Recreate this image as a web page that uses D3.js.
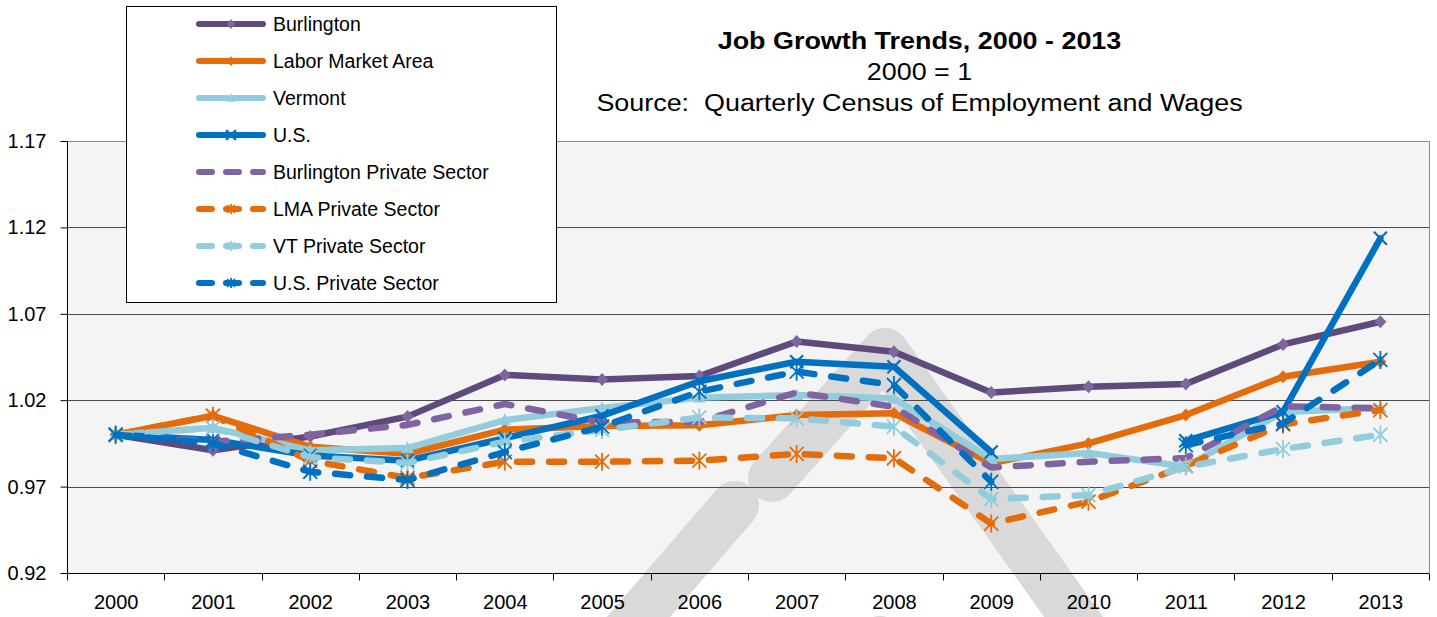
<!DOCTYPE html>
<html>
<head>
<meta charset="utf-8">
<script src="https://cdn.jsdelivr.net/npm/d3@7"></script>
<style>
  html, body { margin: 0; padding: 0; background: #fff; }
  svg { display: block; font-family: "Liberation Sans", Arial, sans-serif; }
</style>
</head>
<body>
<svg id="chart" width="1437" height="617"></svg>
<script>
// ---------- data ----------
const years = ["2000","2001","2002","2003","2004","2005","2006","2007","2008","2009","2010","2011","2012","2013"];
const yTicks = [0.92, 0.97, 1.02, 1.07, 1.12, 1.17];
const seriesNames = ["Burlington","Labor Market Area","Vermont","U.S.","Burlington Private Sector","LMA Private Sector","VT Private Sector","U.S. Private Sector"];
const burlington   = [1, 0.991, 0.999, 1.0105, 1.0346, 1.032, 1.034, 1.054, 1.048, 1.0244, 1.0278, 1.0294, 1.0523, 1.0654];
const lma          = [1, 1.011, 0.993, 0.989, 1.003, 1.005, 1.0055, 1.0114, 1.0124, 0.9835, 0.995, 1.0114, 1.0336, 1.0423];
const vermont      = [1, 1.004, 0.991, 0.9923, 1.0085, 1.0155, 1.0215, 1.023, 1.021, 0.986, 0.9895, 0.9815, 1.0132, 1.0155];
const us           = [1, 0.997, 0.988, 0.985, 0.998, 1.011, 1.031, 1.0423, 1.0394, 0.990, null, 0.9965, 1.0133, 1.1137];
const burlPrivate  = [1, 0.996, 1.000, 1.0057, 1.0178, 1.007, 1.0076, 1.0245, 1.0162, 0.981, 0.9844, 0.9865, 1.0165, 1.0153];
const lmaPrivate   = [1, 1.011, 0.985, 0.975, 0.9844, 0.9844, 0.985, 0.9889, 0.9864, 0.9486, 0.9613, 0.982, 1.006, 1.0143];
const vtPrivate    = [1, 1.004, 0.987, 0.9837, 0.996, 1.0028, 1.010, 1.0095, 1.0047, 0.9628, 0.9651, 0.9815, 0.9917, 1.000];
const usPrivate    = [1, 0.995, 0.9786, 0.9738, 0.990, 1.0047, 1.025, 1.0365, 1.0288, 0.9728, null, 0.994, 1.0065, 1.0433];

const seriesValues = [burlington, lma, vermont, us, burlPrivate, lmaPrivate, vtPrivate, usPrivate];
const seriesColors = ["#604a7b","#e46c0a","#93cddd","#0070c0","#8064a2","#e46c0a","#93cddd","#0070c0"];
const markerColors = ["#7e66a0","#e46c0a","#93cddd","#0070c0",null,"#e46c0a","#93cddd","#0070c0"];
const seriesDashed = [false,false,false,false,true,true,true,true];
const seriesMarker = ["diamond","diamond","triangle","x",null,"star","star","star"];

// ---------- layout ----------
const svg = d3.select("#chart");
const plot = {left: 67, right: 1429, top: 141, bottom: 573};

const x = d3.scaleBand().domain(years).range([plot.left, plot.right]).padding(0);
const xc = d => x(d) + x.bandwidth() / 2;
const y = d3.scaleLinear().domain([0.92, 1.17]).range([plot.bottom, plot.top]);

// plot background
svg.append("rect")
  .attr("x", plot.left).attr("y", plot.top)
  .attr("width", plot.right - plot.left).attr("height", plot.bottom - plot.top)
  .attr("fill", "#f4f4f4");

// watermark (light gray shapes)
const wm = svg.append("g").attr("stroke", "#d9d9d9").attr("stroke-width", 48)
  .attr("stroke-linecap", "round").attr("stroke-linejoin", "round").attr("fill", "none");
wm.append("path").attr("d", "M772,478 L885,352 L1090,640");
wm.append("path").attr("d", "M735,505 L610,650");
wm.append("path").attr("d", "M880,640 L940,700");

// gridlines
svg.append("g")
  .selectAll("line").data(yTicks.filter(t => t > 0.92 && t < 1.17)).join("line")
  .attr("x1", plot.left).attr("x2", plot.right)
  .attr("y1", d => Math.round(y(d)) + 0.5).attr("y2", d => Math.round(y(d)) + 0.5)
  .attr("stroke", "#4a4a4a").attr("stroke-width", 1);
// top & right border
svg.append("path")
  .attr("d", `M${plot.left},${Math.round(plot.top)+0.5} H${plot.right+0.5} V${plot.bottom}`)
  .attr("fill", "none").attr("stroke", "#8c8c8c").attr("stroke-width", 1);

// y axis
const yAxis = d3.axisLeft(y).tickValues(yTicks).tickFormat(d3.format(".2f")).tickSize(7).tickPadding(14);
const gy = svg.append("g").attr("transform", `translate(${plot.left + 0.5},0)`).call(yAxis);
gy.select(".domain").attr("stroke", "#000").attr("d", `M0,${plot.top}V${plot.bottom}`);
gy.selectAll(".tick line").attr("stroke", "#000");
gy.selectAll("text").attr("font-size", 20).attr("fill", "#000").attr("font-family", "Liberation Sans, Arial, sans-serif");

// x axis (labels centred, ticks at category boundaries)
const xAxis = d3.axisBottom(d3.scalePoint().domain(years).range([xc(years[0]), xc(years[years.length-1])]))
  .tickSize(0).tickPadding(21);
const gx = svg.append("g").attr("transform", `translate(0,${plot.bottom + 0.5})`).call(xAxis);
gx.select(".domain").attr("stroke", "#000").attr("d", `M${plot.left},0H${plot.right}`);
gx.selectAll("text").attr("font-size", 20).attr("fill", "#000").attr("font-family", "Liberation Sans, Arial, sans-serif");
const boundaries = years.map(d => x(d)).concat([plot.right]);
gx.selectAll(".bt").data(boundaries).join("line").attr("class", "bt")
  .attr("x1", d => Math.round(d) + 0.5).attr("x2", d => Math.round(d) + 0.5)
  .attr("y1", 0).attr("y2", 7).attr("stroke", "#000");

// marker drawing
function markerPath(type, s) {
  s = s || 1;
  if (type === "diamond") return `M0,${-6.5*s}L${6*s},0L0,${6.5*s}L${-6*s},0Z`;
  if (type === "triangle") return `M0,${-6.5*s}L${6.5*s},${5*s}L${-6.5*s},${5*s}Z`;
  if (type === "x") return `M${-6.5*s},${-6.5*s}L${6.5*s},${6.5*s}M${-6.5*s},${6.5*s}L${6.5*s},${-6.5*s}`;
  if (type === "star") return `M${-7*s},${-7*s}L${7*s},${7*s}M${-7*s},${7*s}L${7*s},${-7*s}M0,${-9*s}L0,${9*s}`;
  return "";
}
function drawMarker(g, type, color, cx, cy, s) {
  const filled = (type === "diamond" || type === "triangle");
  g.append("path").attr("d", markerPath(type, s))
    .attr("transform", `translate(${cx},${cy})`)
    .attr("fill", filled ? color : "none")
    .attr("stroke", filled ? "none" : color)
    .attr("stroke-width", type === "x" ? 2.2 : 1.8);
}

// series
const line = d3.line().defined(d => d.v != null).x(d => xc(d.year)).y(d => y(d.v));
const gSeries = svg.append("g");
seriesValues.forEach((vals, i) => {
  const pts = years.map((yr, j) => ({year: yr, v: vals[j]}));
  const g = gSeries.append("g");
  g.append("path").datum(pts).attr("d", line)
    .attr("fill", "none").attr("stroke", seriesColors[i]).attr("stroke-width", 6.5)
    .attr("stroke-linecap", "round").attr("stroke-linejoin", "round")
    .attr("stroke-dasharray", seriesDashed[i] ? "15,17" : null);
  if (seriesMarker[i]) {
    pts.filter(p => p.v != null).forEach(p => drawMarker(g, seriesMarker[i], markerColors[i], xc(p.year), y(p.v), 1));
  }
});

// legend
const lg = svg.append("g");
lg.append("rect").attr("x", 126.5).attr("y", 6.5).attr("width", 430).attr("height", 296)
  .attr("fill", "#fff").attr("stroke", "#000").attr("stroke-width", 1);
seriesNames.forEach((name, i) => {
  const ly = 24 + i * 37;
  const row = lg.append("g");
  row.append("line").attr("x1", 199).attr("x2", 263).attr("y1", ly).attr("y2", ly)
    .attr("stroke", seriesColors[i]).attr("stroke-width", 6).attr("stroke-linecap", "round")
    .attr("stroke-dasharray", seriesDashed[i] ? "13,14" : null);
  if (seriesMarker[i]) {
    const s = seriesMarker[i] === "star" ? 0.55 : 0.75;
    drawMarker(row, seriesMarker[i], markerColors[i], 231, ly, s);
  }
  row.append("text").attr("x", 273).attr("y", ly).attr("dy", "0.35em")
    .attr("font-size", 19.5).attr("fill", "#000").text(name);
});

// titles (horizontally stretched like the original)
const titleLines = [
  {text: "Job Growth Trends, 2000 - 2013", y: 49, bold: true},
  {text: "2000 = 1", y: 80, bold: false},
  {text: "Source:  Quarterly Census of Employment and Wages", y: 111, bold: false}
];
const tg = svg.append("g").attr("text-anchor", "middle").attr("fill", "#000");
tg.selectAll("text").data(titleLines).join("text")
  .attr("transform", d => `translate(919.5,${d.y}) scale(1.17,1)`)
  .attr("font-size", 23)
  .attr("font-weight", d => d.bold ? "bold" : "normal")
  .style("white-space", "pre")
  .text(d => d.text);
</script>
</body>
</html>
